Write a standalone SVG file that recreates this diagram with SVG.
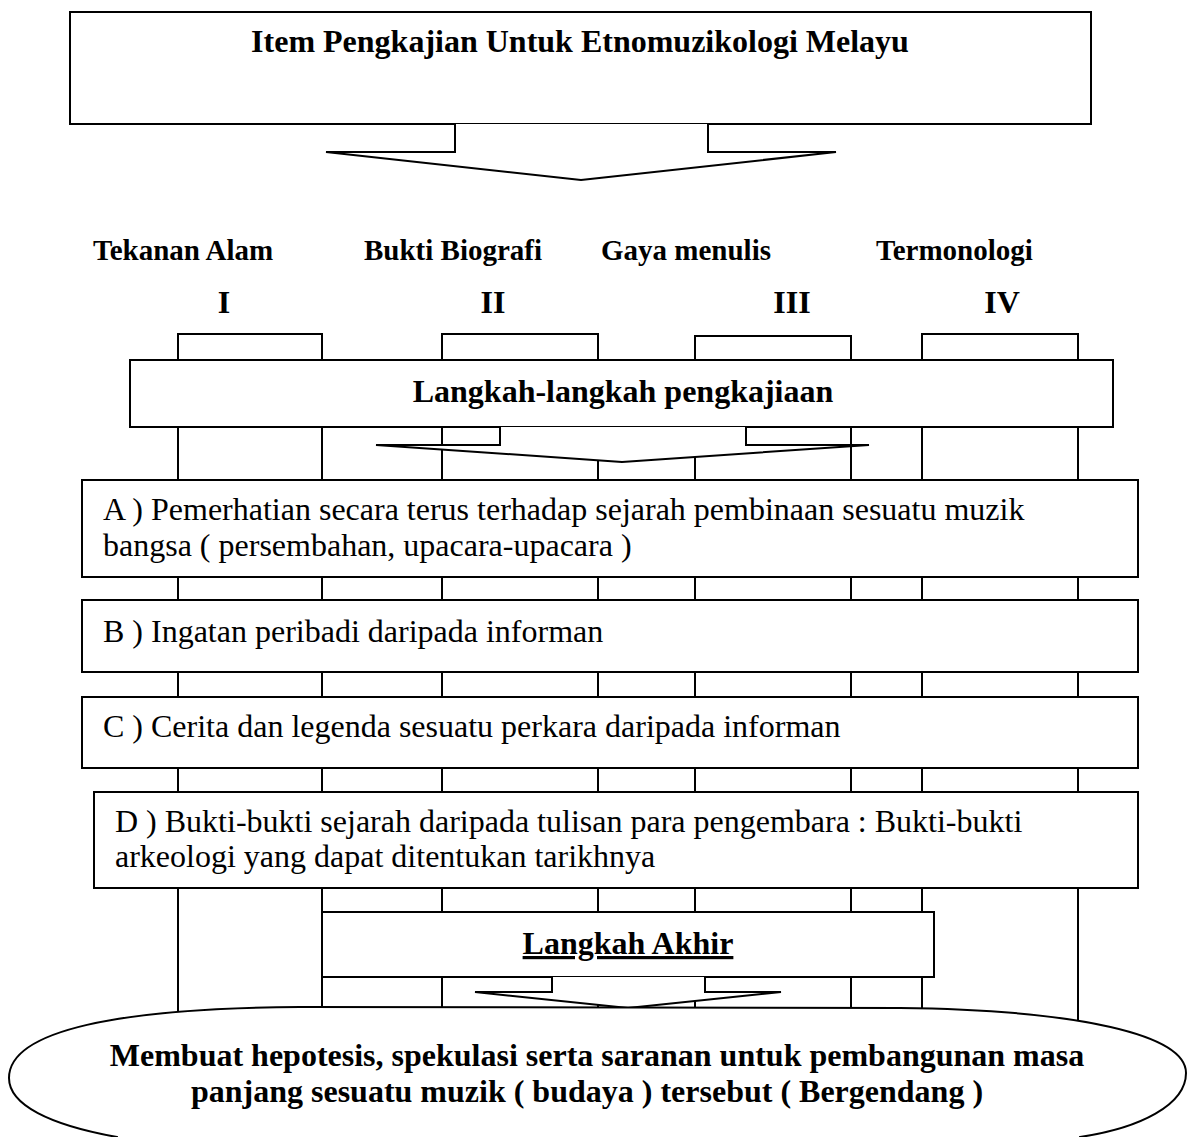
<svg xmlns="http://www.w3.org/2000/svg" width="1192" height="1137" viewBox="0 0 1192 1137">
<style>
.bx{fill:#fff;stroke:#000;stroke-width:2}
.ar{fill:#fff;stroke:#000;stroke-width:2;stroke-linejoin:miter}
.col{fill:#fff;stroke:#000;stroke-width:2}
.t{font-family:"Liberation Serif","Times New Roman",serif;font-size:32px;fill:#000}
.b{font-weight:bold}
.lab{font-family:"Liberation Serif","Times New Roman",serif;font-size:29px;font-weight:bold;fill:#000}
</style>
<rect width="1192" height="1137" fill="#fff"/>

<g id="columns">
<rect class="col" x="178" y="334" width="144" height="760"/>
<rect class="col" x="442" y="334" width="156" height="760"/>
<rect class="col" x="695" y="336" width="156" height="760"/>
<rect class="col" x="922" y="334" width="156" height="760"/>
</g>

<g id="title">
<rect class="bx" x="70" y="12" width="1021" height="112"/>
<text class="t b" x="580" y="52" text-anchor="middle">Item Pengkajian Untuk Etnomuzikologi Melayu</text>
</g>

<g id="labels">
<text class="lab" x="93" y="260">Tekanan Alam</text>
<text class="lab" x="364" y="260">Bukti Biografi</text>
<text class="lab" x="601" y="260">Gaya menulis</text>
<text class="lab" x="876" y="260">Termonologi</text>
<text class="t b" x="224" y="313" text-anchor="middle">I</text>
<text class="t b" x="493" y="313" text-anchor="middle">II</text>
<text class="t b" x="792" y="313" text-anchor="middle">III</text>
<text class="t b" x="1002" y="313" text-anchor="middle">IV</text>
</g>

<g id="langkah">
<rect class="bx" x="130" y="360" width="983" height="67"/>
<text class="t b" x="623" y="402" text-anchor="middle">Langkah-langkah pengkajiaan</text>
</g>

<g id="stepA">
<rect class="bx" x="82" y="480" width="1056" height="97"/>
<text class="t" x="103" y="520">A ) Pemerhatian secara terus terhadap sejarah pembinaan sesuatu muzik</text>
<text class="t" x="103" y="556">bangsa ( persembahan, upacara-upacara )</text>
</g>

<g id="stepB">
<rect class="bx" x="82" y="600" width="1056" height="72"/>
<text class="t" x="103" y="642">B ) Ingatan peribadi daripada informan</text>
</g>

<g id="stepC">
<rect class="bx" x="82" y="697" width="1056" height="71"/>
<text class="t" x="103" y="737">C ) Cerita dan legenda sesuatu perkara daripada informan</text>
</g>

<g id="stepD">
<rect class="bx" x="94" y="792" width="1044" height="96"/>
<text class="t" x="115" y="832">D ) Bukti-bukti sejarah daripada tulisan para pengembara : Bukti-bukti</text>
<text class="t" x="115" y="867">arkeologi yang dapat ditentukan tarikhnya</text>
</g>

<g id="akhir">
<rect class="bx" x="322" y="912" width="612" height="65"/>
<text class="t b" x="628" y="954" text-anchor="middle" text-decoration="underline">Langkah Akhir</text>
</g>

<g id="connectors">
<path class="ar" d="M455 124 L455 152 L326 152 L581 180 L836 152 L708 152 L708 124"/>
<path class="ar" d="M500 427 L500 445 L376 445 L622 462 L869 445 L746 445 L746 427"/>
<path class="ar" d="M552 977 L552 992 L475 992 L628 1008 L781 992 L705 992 L705 977"/>
</g>

<g id="result">
<path class="bx" d="M117 1137 C50 1125 9 1105 9 1078 C9 1030 120 1008 300 1007 L900 1008 C1080 1010 1186 1035 1186 1073 C1186 1105 1140 1128 1080 1137 L1080 1160 L117 1160 Z"/>
<text class="t b" x="597" y="1066" text-anchor="middle">Membuat hepotesis, spekulasi serta saranan untuk pembangunan masa</text>
<text class="t b" x="587" y="1102" text-anchor="middle">panjang sesuatu muzik ( budaya ) tersebut ( Bergendang )</text>
</g>
</svg>
